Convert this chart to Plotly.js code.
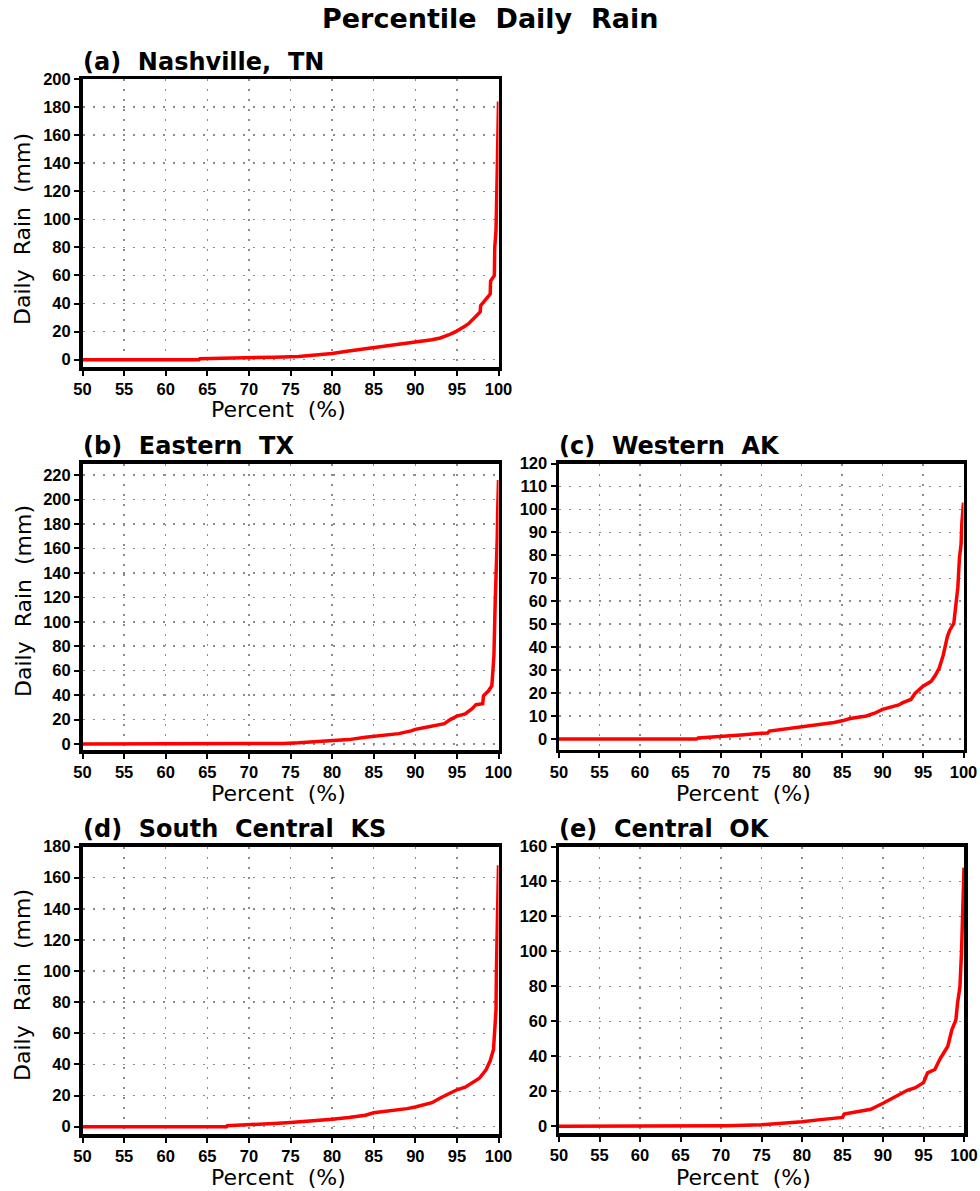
<!DOCTYPE html>
<html><head><meta charset="utf-8">
<script src="https://cdn.plot.ly/plotly-3.0.1.min.js"></script>
<style>html,body{margin:0;padding:0;background:#fff}</style>
</head><body><div id="chart" style="width:980px;height:1191px"></div>
<script>
// ---- data ----
const mainTitle = "Percentile  Daily  Rain";
const panelTitles = ["(a)  Nashville,  TN", "(b)  Eastern  TX", "(c)  Western  AK", "(d)  South  Central  KS", "(e)  Central  OK"];
const xTitle = "Percent  (%)";
const yTitle = "Daily  Rain  (mm)";

const a_x = [50, 64, 64.1, 69, 73, 76, 78, 80, 82, 84, 85, 86, 88, 90, 91, 92, 93, 93.6, 94, 94.8, 95.5, 96, 96.4, 97, 97.5, 97.8, 97.85, 98.2, 98.5, 99.0, 99.05, 99.4, 99.5, 99.55, 99.65, 99.7, 99.85, 99.9, 100];
const a_y = [0, 0, 0.7, 1.0, 1.8, 2.3, 3.2, 4.5, 6.2, 7.8, 8.6, 9.3, 10.5, 12.3, 13.3, 14.2, 15.5, 16.6, 17.6, 19.8, 22, 24, 25.6, 29, 32, 34, 38.5, 41, 43, 46.7, 56, 58.5, 60, 80, 85, 92, 135, 160, 184];

const b_x = [50, 74, 74.1, 76, 78, 80, 82, 84, 86, 88, 89.5, 90, 91, 92, 93.5, 94.2, 95, 96, 96.8, 97.3, 98.1, 98.2, 98.8, 99.2, 99.3, 99.45, 99.6, 99.75, 99.85, 99.9, 100];
const b_y = [0, 0, 0.5, 1.0, 1.8, 2.6, 3.6, 5.5, 7.1, 8.5, 10.7, 12, 13.3, 14.7, 16.6, 20, 22.8, 24.7, 28.7, 32.2, 33, 39.5, 43.5, 47.6, 60, 72, 115, 140, 169, 190, 216];

const c_x = [50, 67, 67.2, 70, 72.5, 75, 75.8, 76, 78, 80, 82, 84, 85, 86, 88, 89, 90, 91, 92, 92.5, 93.5, 94, 94.5, 95, 96, 96.5, 97, 97.5, 98, 98.3, 98.8, 99.1, 99.3, 99.5, 99.7, 99.8, 99.9, 100];
const c_y = [0, 0, 0.4, 1.0, 1.7, 2.5, 2.6, 3.4, 4.3, 5.5, 6.2, 7.2, 7.9, 8.9, 10, 11.2, 12.9, 13.9, 14.8, 15.8, 17.2, 19.8, 21.5, 23, 25.1, 27.6, 30.9, 36.6, 44.5, 47.4, 50.3, 60.3, 66, 79, 84.8, 94, 98, 103];

const d_x = [50, 67.3, 67.4, 70, 73, 75, 78, 80, 82, 84, 85, 87, 89, 90, 92, 93, 94, 95, 96, 97, 97.7, 98.5, 99, 99.4, 99.6, 99.7, 99.75, 99.8, 99.9, 100];
const d_y = [0, 0, 0.6, 1.1, 2.1, 2.7, 3.8, 4.8, 5.9, 7.4, 8.9, 10.1, 11.6, 12.7, 15.4, 18.4, 21.1, 23.7, 25.4, 28.9, 31.1, 36.5, 42.3, 49.6, 62.3, 75, 100, 123.6, 150, 168];

const e_x = [50, 70.6, 70.7, 75, 78, 80, 82, 84, 85, 85.2, 87, 88.5, 90, 91, 92, 93, 94, 95, 95.5, 96.4, 97, 97.5, 98, 98.5, 99, 99.2, 99.5, 99.7, 99.8, 99.9, 100];
const e_y = [0, 0, 0.4, 0.9, 1.7, 2.6, 3.7, 4.5, 5.1, 7.0, 8.5, 9.8, 13.2, 15.5, 18.3, 20.6, 22.1, 25.0, 30.6, 32.5, 38.2, 42, 45.8, 55.2, 60.9, 70.4, 79.8, 100.6, 113.8, 134.7, 147.9];

const yRanges = [[-5.2, 200], [-4.9, 229.5], [-4.6, 120], [-4.7, 180], [-3.8, 160]];
const yDticks = [20, 20, 10, 20, 20];

// ---- layout geometry (pixels) ----
const W = 980, H = 1191;
const boxes = [
  [82.5, 498.5, 79, 367],
  [82.5, 498.5, 463.5, 750],
  [559, 963.5, 463.5, 749.5],
  [82.5, 498.5, 846.5, 1134],
  [559, 964, 846.5, 1133]
];
const px = v => v / W, py = v => 1 - v / H;

const xs = [a_x, b_x, c_x, d_x, e_x];
const ys = [a_y, b_y, c_y, d_y, e_y];

const traces = xs.map((x, i) => ({
  type: 'scatter', mode: 'lines', x: x, y: ys[i],
  xaxis: i === 0 ? 'x' : 'x' + (i + 1), yaxis: i === 0 ? 'y' : 'y' + (i + 1),
  line: {color: '#ff0000', width: 3.5}, hoverinfo: 'skip', showlegend: false
}));

const tickFont = {family: 'Liberation Sans, Arial, sans-serif', size: 16.5, weight: 'bold', color: '#000'};
const common = {
  showline: true, linewidth: 3.5, linecolor: '#000', mirror: true,
  ticks: 'outside', ticklen: 5, tickwidth: 2, tickcolor: '#000',
  showgrid: true, gridcolor: '#8c8c8c', gridwidth: 1.5, griddash: '2px,8px',
  zeroline: false, tickfont: tickFont, fixedrange: true
};

const layout = {
  width: W, height: H, margin: {l: 0, r: 0, t: 0, b: 0},
  paper_bgcolor: '#fff', plot_bgcolor: '#fff', showlegend: false,
  annotations: []
};

boxes.forEach((b, i) => {
  const s = i === 0 ? '' : String(i + 1);
  layout['xaxis' + s] = Object.assign({}, common, {
    domain: [px(b[0]), px(b[1])], range: [50, 100], tick0: 50, dtick: 5,
    anchor: 'y' + s
  });
  layout['yaxis' + s] = Object.assign({}, common, {
    domain: [py(b[3]), py(b[2])], range: yRanges[i], tick0: 0, dtick: yDticks[i],
    anchor: 'x' + s
  });
});

const titleFont = {family: 'DejaVu Sans, sans-serif', size: 24, weight: 'bold', color: '#000'};
const labFont = {family: 'DejaVu Sans, sans-serif', size: 22, color: '#000'};

layout.annotations.push({
  text: mainTitle, xref: 'paper', yref: 'paper', x: px(490), y: py(19),
  xanchor: 'center', yanchor: 'middle', showarrow: false,
  font: {family: 'DejaVu Sans, sans-serif', size: 27, weight: 'bold', color: '#000'}
});

const titlePos = [[81, 62], [81, 446], [557, 446], [81, 829], [557, 829]];
panelTitles.forEach((t, i) => {
  layout.annotations.push({
    text: t, xref: 'paper', yref: 'paper', x: px(titlePos[i][0]), y: py(titlePos[i][1]),
    xanchor: 'left', yanchor: 'middle', showarrow: false, font: titleFont
  });
});

const xTitlePos = [[278, 410], [278, 793], [743, 793], [278, 1177], [743, 1177]];
xTitlePos.forEach(p => {
  layout.annotations.push({
    text: xTitle, xref: 'paper', yref: 'paper', x: px(p[0]), y: py(p[1]),
    xanchor: 'center', yanchor: 'middle', showarrow: false, font: labFont
  });
});

const yTitlePos = [[23, 229], [23, 601], [23, 985]];
yTitlePos.forEach(p => {
  layout.annotations.push({
    text: yTitle, xref: 'paper', yref: 'paper', x: px(p[0]), y: py(p[1]),
    xanchor: 'center', yanchor: 'middle', textangle: -90, showarrow: false, font: labFont
  });
});

Plotly.newPlot('chart', traces, layout, {staticPlot: true, displayModeBar: false});
</script>
</body></html>
